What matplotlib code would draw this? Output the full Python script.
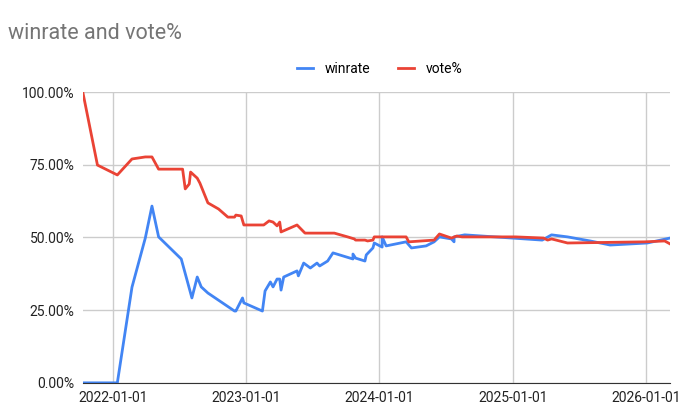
import matplotlib
matplotlib.use("Agg")
import matplotlib.pyplot as plt
import matplotlib.dates as mdates
from matplotlib.ticker import FuncFormatter
import datetime as dt

def ydate(y):
    yr = int(y)
    start = dt.datetime(yr, 1, 1)
    return start + dt.timedelta(days=(y - yr) * 365.25)

vote_x = [2021.77,2021.88,2022.03,2022.14,2022.24,2022.29,2022.34,2022.52,2022.54,2022.57,2022.58,2022.63,2022.65,2022.71,2022.79,2022.86,2022.91,2022.92,2022.96,2022.98,2023.13,2023.17,2023.20,2023.23,2023.25,2023.26,2023.38,2023.44,2023.66,2023.76,2023.81,2023.82,2023.89,2023.91,2023.95,2023.96,2024.20,2024.22,2024.41,2024.45,2024.54,2024.58,2024.62,2025.02,2025.23,2025.26,2025.29,2025.41,2025.99,2026.14,2026.18]
vote_y = [100,74.9,71.5,77.0,77.7,77.7,73.5,73.5,66.7,68.4,72.5,70.4,68.7,61.9,59.8,57.0,57.0,57.7,57.4,54.3,54.3,55.7,55.3,54.0,55.3,51.9,54.3,51.5,51.5,50.2,49.5,49.1,49.1,48.8,49.1,50.2,50.2,48.5,49.1,51.2,49.8,50.5,50.2,50.2,49.8,49.1,49.5,48.1,48.5,48.8,47.8]
win_x = [2021.77,2022.03,2022.14,2022.24,2022.29,2022.34,2022.51,2022.59,2022.63,2022.66,2022.71,2022.91,2022.92,2022.97,2022.98,2023.12,2023.14,2023.18,2023.20,2023.23,2023.25,2023.26,2023.28,2023.38,2023.39,2023.43,2023.48,2023.53,2023.55,2023.61,2023.65,2023.80,2023.80,2023.82,2023.89,2023.90,2023.95,2023.96,2024.02,2024.02,2024.05,2024.20,2024.24,2024.35,2024.41,2024.45,2024.54,2024.56,2024.56,2024.64,2025.22,2025.29,2025.41,2025.58,2025.73,2026.01,2026.18]
win_y = [0,0,32.9,49.8,60.8,50.2,42.6,29.2,36.4,33.0,30.9,24.7,24.7,29.2,27.5,24.7,31.6,34.7,33.0,35.7,35.7,31.9,36.4,38.5,36.8,41.2,39.5,41.2,40.2,41.9,44.7,42.6,44.3,42.9,41.9,44.0,46.4,48.1,46.7,50.2,47.1,48.5,46.4,47.1,48.5,50.2,49.5,48.5,50.2,50.9,49.1,50.9,50.2,48.8,47.4,48.1,49.8]
ticks = ["2022-01-01","2023-01-01","2024-01-01","2025-01-01","2026-01-01"]

plt.rcParams['font.family'] = ['Roboto', 'DejaVu Sans']
fig = plt.figure(figsize=(6.9, 4.13), dpi=100)
ax = fig.add_axes([0.12, 0.073, 0.851, 0.704])
ax.plot([ydate(v) for v in win_x], win_y, color="#4285f4", lw=2, label="winrate")
ax.plot([ydate(v) for v in vote_x], vote_y, color="#ea4335", lw=2, label="vote%")
ax.set_xlim(ydate(2021.77), ydate(2026.18))
ax.set_ylim(0, 100)
ax.set_yticks([0, 25, 50, 75, 100])
ax.yaxis.set_major_formatter(FuncFormatter(lambda v, p: f"{v:.2f}%"))
ax.set_xticks([dt.datetime.strptime(t, "%Y-%m-%d") for t in ticks])
ax.set_xticklabels(ticks)
ax.grid(True, color="#cccccc", lw=1)
ax.set_axisbelow(True)
for s in ["top", "right", "left"]:
    ax.spines[s].set_visible(False)
ax.spines["bottom"].set_color("#333333")
ax.tick_params(length=0, labelsize=10, colors="#222222", pad=6)
fig.text(0.012, 0.905, "winrate and vote%", fontsize=15.5, color="#757575")
fig.legend(loc="upper center", bbox_to_anchor=(0.55, 0.88), ncol=2, frameon=False,
           fontsize=10, handlelength=1.2, columnspacing=2)
fig.savefig("out.png")
